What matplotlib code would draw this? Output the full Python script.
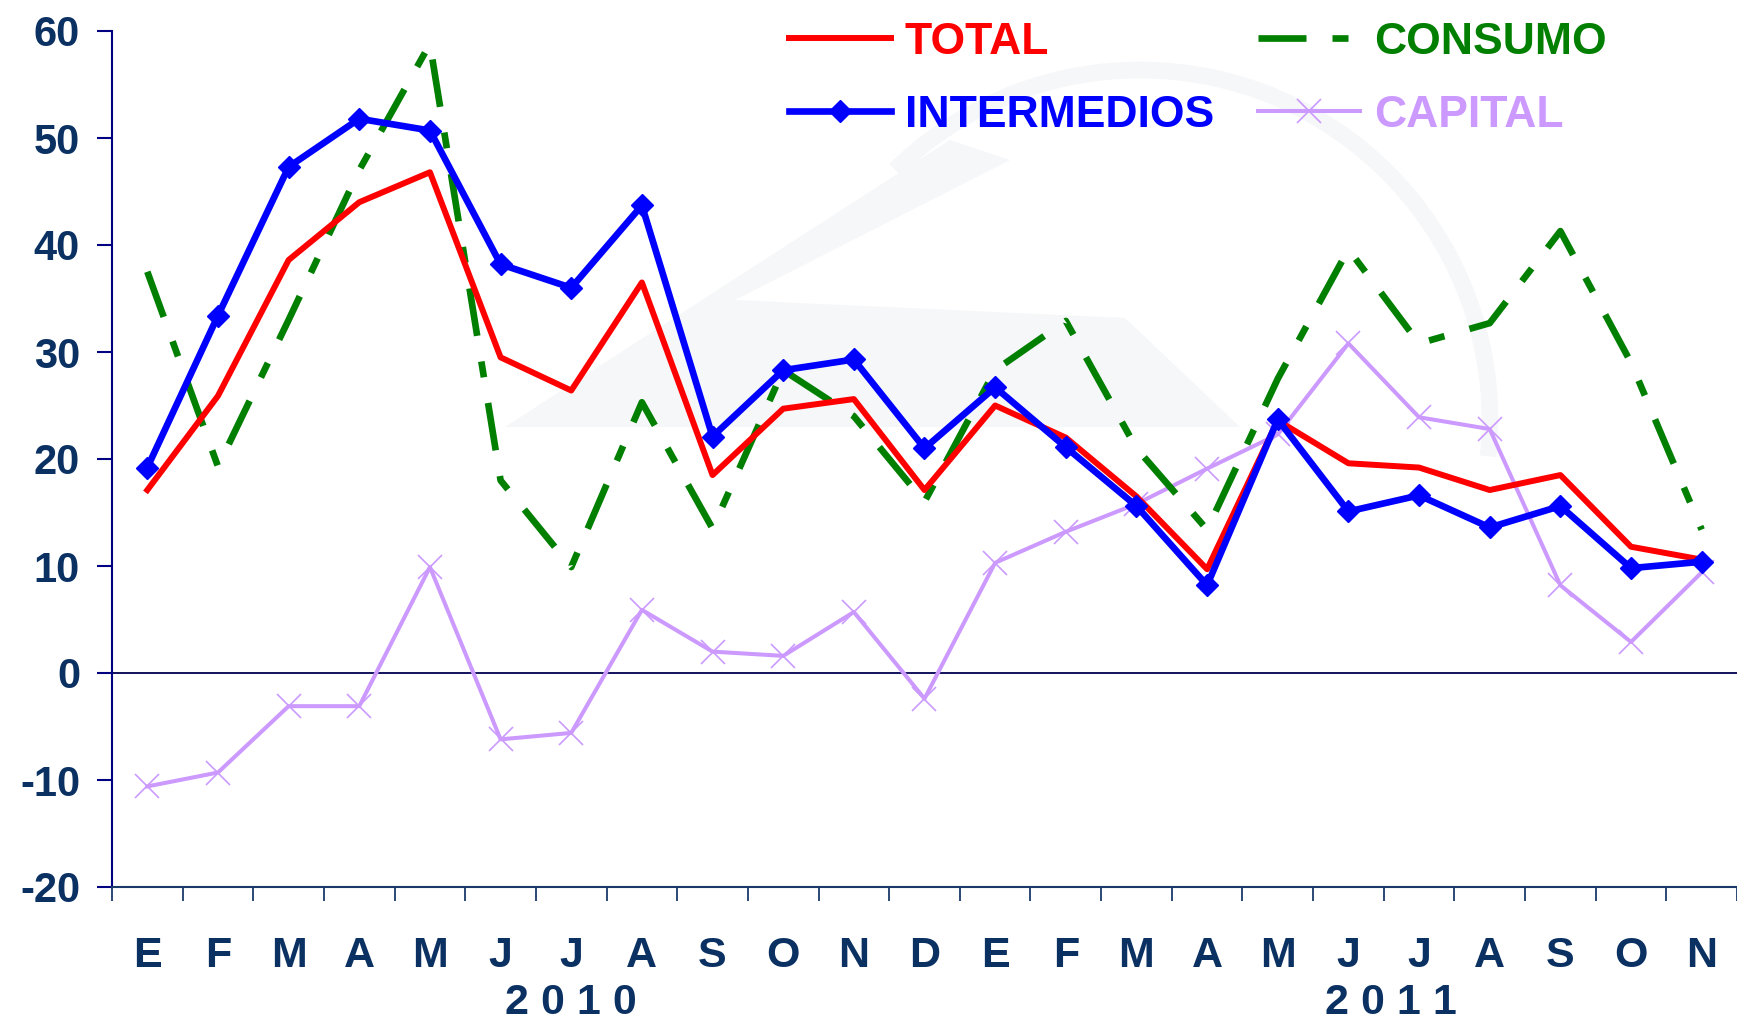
import matplotlib
matplotlib.use("Agg")
import matplotlib.pyplot as plt
from matplotlib.lines import Line2D
from matplotlib.patches import Polygon, Arc

plt.rcParams['font.family'] = ['Liberation Sans', 'DejaVu Sans']
plt.rcParams['font.weight'] = 'bold'
plt.rcParams['axes.unicode_minus'] = False

months = ['E', 'F', 'M', 'A', 'M', 'J', 'J', 'A', 'S', 'O', 'N', 'D',
          'E', 'F', 'M', 'A', 'M', 'J', 'J', 'A', 'S', 'O', 'N']
years = ['2 0 1 0', '2 0 1 1']
year_pos = [6.0, 17.6]

total = [17.1, 25.9, 38.6, 44.0, 46.8, 29.5, 26.4, 36.5, 18.5, 24.7, 25.6, 17.1,
         25.0, 22.0, 16.5, 9.7, 23.6, 19.6, 19.2, 17.1, 18.5, 11.8, 10.6]
intermedios = [19.2, 33.4, 47.3, 51.8, 50.7, 38.2, 36.0, 43.7, 22.1, 28.3, 29.3, 21.0,
               26.7, 21.1, 15.6, 8.2, 23.7, 15.1, 16.6, 13.6, 15.6, 9.8, 10.4]
consumo = [37.5, 19.3, 33.0, 47.0, 58.8, 18.0, 9.9, 25.3, 13.5, 28.3, 24.0, 16.0,
           28.3, 32.9, 21.0, 13.4, 27.5, 39.6, 30.8, 32.7, 41.3, 29.0, 13.4]
capital = [-10.6, -9.3, -3.1, -3.1, 9.9, -6.2, -5.6, 5.9, 2.0, 1.6, 5.7, -2.4,
           10.3, 13.2, 15.8, 19.1, 22.3, 30.8, 23.9, 22.8, 8.2, 2.9, 9.4]

C_TOTAL = '#FF0000'
C_INT = '#0000FF'
C_CONS = '#007F00'
C_CAP = '#CC99FF'
C_TXT = '#0B3163'
C_AX = '#000080'

DASH = (7.2, 3.9, 2.4, 3.9)

W, H = 1737, 1024
fig = plt.figure(figsize=(W / 100, H / 100), dpi=100)

# faint watermark in the background (figure pixel coordinates)
def px(pts):
    return [(xx / W, 1 - yy / H) for xx, yy in pts]

wm = Polygon(px([(505, 427), (950, 140), (1010, 160), (735, 300),
                 (1125, 318), (1240, 427)]),
             closed=True, transform=fig.transFigure, facecolor='#F5F7F9',
             edgecolor='none', zorder=0)
fig.patches.append(wm)
arc = Arc((1140 / W, 1 - 420 / H), 700 / W, 700 / H, theta1=-10, theta2=120,
          transform=fig.transFigure, color='#F6F7F9', lw=12, zorder=0)
fig.patches.append(arc)

left, right, bottom, top = 112 / W, 1.0, 1 - 887 / H, 1 - 31 / H
ax = fig.add_axes([left, bottom, right - left, top - bottom])
ax.set_zorder(2)
ax.patch.set_alpha(0)

x = list(range(len(months)))

ax.axhline(0, color='#000050', lw=1.3, zorder=1)
ax.plot(x, capital, color=C_CAP, lw=2.9, marker='x', ms=17, mew=1.2, zorder=2,
        label='CAPITAL')
ax.plot(x, consumo, color=C_CONS, lw=4.8, dashes=DASH,
        dash_capstyle='butt', zorder=3, label='CONSUMO')
ax.plot(x, total, color=C_TOTAL, lw=4.3, zorder=4, label='TOTAL')
ax.plot(x, intermedios, color=C_INT, lw=4.8, marker='D', ms=11.5, zorder=5,
        label='INTERMEDIOS')

ax.set_xlim(-0.5, 22.33)
ax.set_ylim(-20, 60)

ax.set_yticks(range(-20, 61, 10))
ax.tick_params(axis='y', direction='out', length=11, width=1.5, color=C_AX,
               labelsize=30, labelcolor=C_TXT, pad=12)
ax.set_xticks(x)
ax.set_xticklabels(months)
ax.set_xticks([i - 0.5 for i in range(len(months) + 1)], minor=True)
ax.tick_params(axis='x', which='major', length=0, labelsize=31,
               labelcolor=C_TXT, pad=35)
ax.tick_params(axis='x', which='minor', direction='out', length=10, width=1.3,
               color='#1a3a6a')
for lab in ax.get_xticklabels() + ax.get_yticklabels():
    lab.set_fontweight('bold')

for yp, yl in zip(year_pos, years):
    ax.text(yp, -30.8, yl, ha='center', va='center', fontsize=31,
            fontweight='bold', color=C_TXT, clip_on=False)

ax.spines['top'].set_visible(False)
ax.spines['right'].set_visible(False)
ax.spines['left'].set_color(C_AX)
ax.spines['left'].set_linewidth(1.5)
ax.spines['bottom'].set_color('#1a3a6a')
ax.spines['bottom'].set_linewidth(1.5)

handles = [
    Line2D([], [], color=C_TOTAL, lw=4.3),
    Line2D([], [], color=C_INT, lw=4.8, marker='D', ms=11.5),
    Line2D([], [], color=C_CONS, lw=4.8, dashes=DASH),
    Line2D([], [], color=C_CAP, lw=2.9, marker='x', ms=17, mew=1.2),
]
labels = ['TOTAL', 'INTERMEDIOS', 'CONSUMO', 'CAPITAL']
leg = fig.legend(handles, labels, ncol=2, loc='upper left',
                 bbox_to_anchor=(789 / W, 1 - 22 / H), frameon=False,
                 prop={'size': 32, 'weight': 'bold'},
                 labelcolor=[C_TOTAL, C_INT, C_CONS, C_CAP],
                 handlelength=2.3, handletextpad=0.3, columnspacing=1.0,
                 labelspacing=0.72, borderpad=0, borderaxespad=0)
leg.set_zorder(3)

fig.savefig('out.png', dpi=100)
